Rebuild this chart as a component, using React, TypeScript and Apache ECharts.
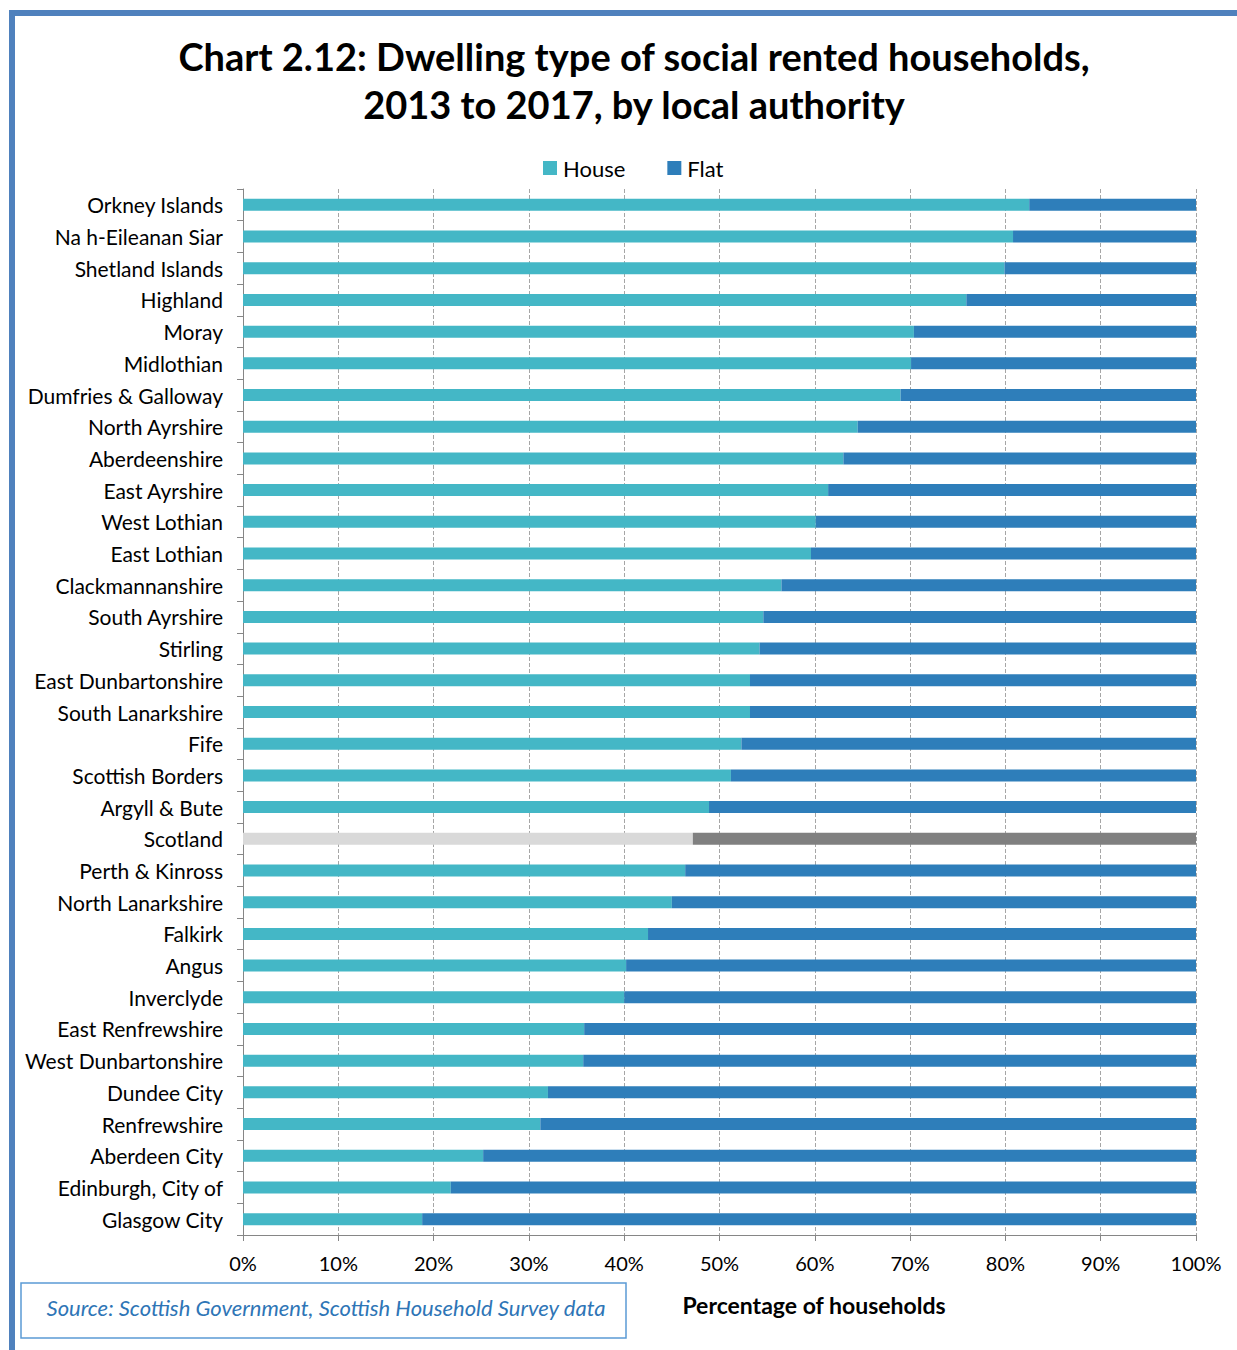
import React, { useEffect, useRef } from "react";
import * as echarts from "echarts";

const categories = [
  "Orkney Islands", "Na h-Eileanan Siar", "Shetland Islands", "Highland", "Moray",
  "Midlothian", "Dumfries & Galloway", "North Ayrshire", "Aberdeenshire", "East Ayrshire",
  "West Lothian", "East Lothian", "Clackmannanshire", "South Ayrshire", "Stirling",
  "East Dunbartonshire", "South Lanarkshire", "Fife", "Scottish Borders", "Argyll & Bute",
  "Scotland", "Perth & Kinross", "North Lanarkshire", "Falkirk", "Angus",
  "Inverclyde", "East Renfrewshire", "West Dunbartonshire", "Dundee City", "Renfrewshire",
  "Aberdeen City", "Edinburgh, City of", "Glasgow City",
];

const houseValues = [
  82.5, 80.8, 79.9, 75.9, 70.4,
  70.1, 69.0, 64.5, 63.0, 61.4,
  60.1, 59.6, 56.5, 54.6, 54.2,
  53.2, 53.2, 52.3, 51.2, 48.9,
  47.2, 46.4, 45.0, 42.5, 40.2,
  40.0, 35.8, 35.7, 32.0, 31.2,
  25.2, 21.8, 18.8,
];

const flatValues = [
  17.5, 19.2, 20.1, 24.1, 29.6,
  29.9, 31.0, 35.5, 37.0, 38.6,
  39.9, 40.4, 43.5, 45.4, 45.8,
  46.8, 46.8, 47.7, 48.8, 51.1,
  52.8, 53.6, 55.0, 57.5, 59.8,
  60.0, 64.2, 64.3, 68.0, 68.8,
  74.8, 78.2, 81.2,
];

const xTicks = [0, 10, 20, 30, 40, 50, 60, 70, 80, 90, 100];

const HOUSE = "#44B7C6";
const FLAT = "#2E7EBA";
const SCOT_HOUSE = "#D9D9D9";
const SCOT_FLAT = "#808080";
const FONT = "Lato, 'Open Sans', sans-serif";

export default function App() {
  const ref = useRef<HTMLDivElement>(null);
  useEffect(() => {
    if (!ref.current) return;
    const chart = echarts.init(ref.current, null, { renderer: "svg" });
    const mk = (vals: number[], scot: string) =>
      vals.map((v, i) =>
        categories[i] === "Scotland" ? { value: v, itemStyle: { color: scot } } : { value: v }
      );
    chart.setOption({
      animation: false,
      backgroundColor: "#ffffff",
      title: {
        text: "Chart 2.12: Dwelling type of social rented households,\n2013 to 2017, by local authority",
        left: 629,
        textAlign: "center",
        top: 27,
        textStyle: {
          fontFamily: FONT,
          fontWeight: "bold",
          fontSize: 38,
          lineHeight: 48,
          color: "#000",
        },
      },
      legend: {
        top: 152,
        left: 538,
        itemWidth: 14,
        itemHeight: 14,
        itemGap: 42,
        icon: "rect",
        textStyle: { fontFamily: FONT, fontSize: 22, color: "#000", padding: [0, 0, 0, 1] },
        data: [
          { name: "House", itemStyle: { color: HOUSE } },
          { name: "Flat", itemStyle: { color: FLAT } },
        ],
      },
      grid: { left: 243, right: 41, top: 189, height: 1046 },
      xAxis: {
        type: "value",
        min: 0,
        max: 100,
        interval: 10,
        axisLine: { show: true, lineStyle: { color: "#868686" } },
        axisTick: { show: true, length: 6, lineStyle: { color: "#868686" } },
        splitLine: { show: true, lineStyle: { color: "#A6A6A6", type: [4, 2] } },
        axisLabel: {
          formatter: (v: number) => (xTicks.includes(v) ? v + "%" : ""),
          fontFamily: FONT,
          fontSize: 20,
          color: "#000",
          margin: 18,
        },
      },
      yAxis: {
        type: "category",
        data: categories,
        inverse: true,
        axisLine: { show: true, lineStyle: { color: "#868686" } },
        axisTick: { show: true, length: 6, alignWithLabel: false, lineStyle: { color: "#868686" } },
        axisLabel: { fontFamily: FONT, fontSize: 21, color: "#000", margin: 20 },
        splitLine: { show: false },
      },
      series: [
        {
          name: "House",
          type: "bar",
          stack: "total",
          barWidth: 12,
          itemStyle: { color: HOUSE },
          data: mk(houseValues, SCOT_HOUSE),
        },
        {
          name: "Flat",
          type: "bar",
          stack: "total",
          barWidth: 12,
          itemStyle: { color: FLAT },
          data: mk(flatValues, SCOT_FLAT),
        },
      ],
      graphic: [
        { type: "rect", shape: { x: 9, y: 10, width: 1240, height: 6 }, style: { fill: "#4F81BD" } },
        { type: "rect", shape: { x: 9, y: 10, width: 6, height: 1345 }, style: { fill: "#4F81BD" } },
        {
          type: "rect",
          shape: { x: 21, y: 1283, width: 605, height: 55 },
          style: { fill: "#fff", stroke: "#5B9BD5", lineWidth: 1.5 },
        },
        {
          type: "text",
          x: 326,
          y: 1307,
          style: {
            text: "Source: Scottish Government, Scottish Household Survey data",
            fontFamily: FONT,
            fontStyle: "italic",
            fontSize: 22,
            fill: "#2E75B6",
            align: "center",
            verticalAlign: "middle",
          },
        },
        {
          type: "text",
          x: 814,
          y: 1305,
          style: {
            text: "Percentage of households",
            fontFamily: FONT,
            fontWeight: "bold",
            fontSize: 23,
            fill: "#000",
            align: "center",
            verticalAlign: "middle",
          },
        },
      ],
    });
    return () => chart.dispose();
  }, []);
  return <div ref={ref} style={{ width: 1237, height: 1350, position: "absolute", left: 0, top: 0 }} />;
}
